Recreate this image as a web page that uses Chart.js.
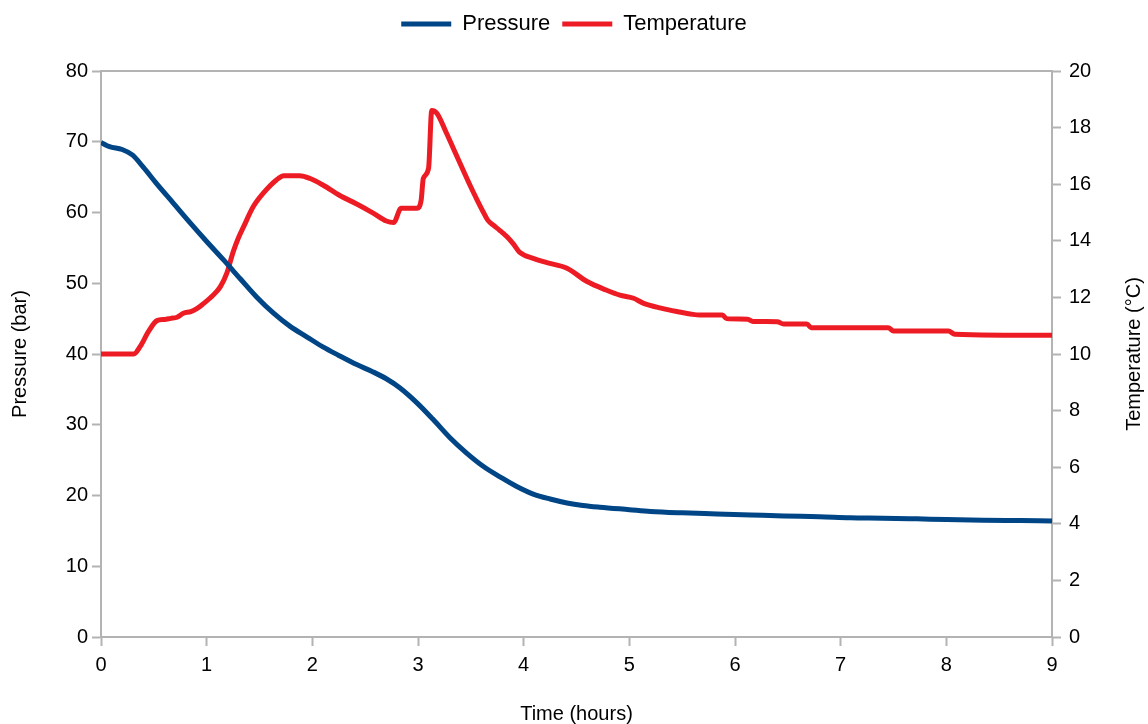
<!DOCTYPE html>
<html>
<head>
<meta charset="utf-8">
<script src="https://cdn.jsdelivr.net/npm/chart.js@4"></script>
<style>
  html, body { margin: 0; padding: 0; background: #ffffff; }
  #wrap { width: 1148px; height: 724px; }
</style>
</head>
<body>
<div id="wrap"><canvas id="chart"></canvas></div>
<script>
// Pressure readings (bar) against elapsed time (hours)
const pressureTimes = [0, 0.08, 0.2, 0.3, 0.4, 0.53, 0.68, 0.84, 1.0, 1.16, 1.32, 1.47, 1.63, 1.79, 1.95,
  2.1, 2.25, 2.42, 2.57, 2.7, 2.83, 2.99, 3.14, 3.3, 3.46, 3.62, 3.78, 3.93, 4.09, 4.25, 4.41, 4.56,
  4.72, 5.0, 5.2, 5.5, 5.83, 6.15, 6.46, 6.8, 7.09, 7.4, 7.72, 8.0, 8.35, 8.7, 9.0];
const pressureValues = [69.9, 69.3, 68.9, 68.1, 66.4, 64.0, 61.4, 58.6, 55.9, 53.3, 50.6, 48.1, 45.8, 43.9, 42.4,
  41.0, 39.8, 38.5, 37.5, 36.5, 35.2, 33.1, 30.8, 28.2, 26.0, 24.1, 22.6, 21.3, 20.2, 19.5, 18.95, 18.6,
  18.35, 18.0, 17.75, 17.55, 17.4, 17.25, 17.1, 17.0, 16.85, 16.8, 16.7, 16.6, 16.5, 16.45, 16.4];

// Temperature readings (°C) against elapsed time (hours)
const temperatureTimes = [0, 0.31, 0.37, 0.45, 0.53, 0.6, 0.66, 0.72, 0.78, 0.85, 0.91, 0.97, 1.03, 1.08,
  1.13, 1.19, 1.25, 1.3, 1.35, 1.44, 1.54, 1.66, 1.73, 1.88, 1.98, 2.1, 2.26, 2.42, 2.58, 2.7, 2.77,
  2.84, 2.99, 3.03, 3.05, 3.1, 3.13, 3.18, 3.27, 3.37, 3.5, 3.56, 3.62, 3.66, 3.71, 3.77, 3.84, 3.9, 3.96,
  4.09, 4.22, 4.41, 4.6, 4.78, 4.91, 5.04, 5.13, 5.3, 5.45, 5.6, 5.67, 5.88, 5.92, 6.12, 6.17, 6.4, 6.46,
  6.68, 6.72, 7.45, 7.5, 8.02, 8.08, 9.0];
const temperatureValues = [10.0, 10.0, 10.26, 10.8, 11.18, 11.22, 11.26, 11.3, 11.44, 11.5, 11.61, 11.78, 11.97, 12.15,
  12.38, 12.85, 13.6, 14.1, 14.5, 15.2, 15.7, 16.15, 16.3, 16.3, 16.2, 15.97, 15.6, 15.3, 14.97, 14.7, 14.65,
  15.15, 15.15, 15.44, 16.2, 16.56, 18.6, 18.5, 17.8, 16.97, 15.9, 15.44, 15.0, 14.73, 14.56, 14.38, 14.15, 13.9, 13.6,
  13.38, 13.23, 13.03, 12.56, 12.26, 12.08, 11.97, 11.8, 11.62, 11.5, 11.4, 11.38, 11.38, 11.25, 11.23, 11.15, 11.14, 11.06,
  11.06, 10.93, 10.93, 10.81, 10.81, 10.7, 10.66];

const timeRange = [0, 9];
const pressureRange = [0, 80];
const temperatureRange = [0, 20];

const seriesNames = ['Pressure', 'Temperature'];
const seriesColors = ['#004586', '#ed1c24'];
const axisTitles = { time: 'Time (hours)', pressure: 'Pressure (bar)', temperature: 'Temperature (°C)' };

const axisGray = '#b3b3b3';
const fontFamily = '"Liberation Sans", Arial, sans-serif';
const legendGap = 26;

const toPoints = (xs, ys) => xs.map((x, i) => ({ x: x, y: ys[i] }));

// Leaves extra room between the legend row and the plot
const legendGapPlugin = {
  id: 'legendGap',
  beforeLayout(chart) {
    const legend = chart.legend;
    if (legend && !legend._gapAdded) {
      const fit = legend.fit;
      legend.fit = function () {
        fit.apply(this, arguments);
        this.height += legendGap;
      };
      legend._gapAdded = true;
    }
  }
};

// Right-hand axis title, written bottom-to-top like the left one
const rightTitlePlugin = {
  id: 'rightTitle',
  afterDraw(chart) {
    const { ctx, chartArea } = chart;
    ctx.save();
    ctx.font = '20px ' + fontFamily;
    ctx.fillStyle = '#000000';
    ctx.textAlign = 'center';
    ctx.textBaseline = 'middle';
    ctx.translate(1134, (chartArea.top + chartArea.bottom) / 2);
    ctx.rotate(-Math.PI / 2);
    ctx.fillText(axisTitles.temperature, 0, 0);
    ctx.restore();
  }
};

// Box line along the top edge of the plot
const topEdgePlugin = {
  id: 'topEdge',
  afterDatasetsDraw(chart) {
    const { ctx, chartArea } = chart;
    ctx.save();
    ctx.strokeStyle = axisGray;
    ctx.lineWidth = 2;
    ctx.beginPath();
    ctx.moveTo(chartArea.left, chartArea.top);
    ctx.lineTo(chartArea.right, chartArea.top);
    ctx.stroke();
    ctx.restore();
  }
};

new Chart(document.getElementById('chart'), {
  type: 'line',
  data: {
    datasets: [
      {
        label: seriesNames[0],
        data: toPoints(pressureTimes, pressureValues),
        borderColor: seriesColors[0],
        backgroundColor: seriesColors[0],
        borderWidth: 5,
        pointRadius: 0,
        cubicInterpolationMode: 'monotone',
        yAxisID: 'y'
      },
      {
        label: seriesNames[1],
        data: toPoints(temperatureTimes, temperatureValues),
        borderColor: seriesColors[1],
        backgroundColor: seriesColors[1],
        borderWidth: 5,
        pointRadius: 0,
        cubicInterpolationMode: 'monotone',
        borderJoinStyle: 'round',
        borderCapStyle: 'round',
        yAxisID: 'y1'
      }
    ]
  },
  options: {
    responsive: true,
    maintainAspectRatio: false,
    animation: false,
    layout: { padding: { top: 1, left: 0, right: 0, bottom: 0 } },
    plugins: {
      tooltip: { enabled: false },
      legend: {
        position: 'top',
        labels: {
          boxWidth: 50,
          boxHeight: 5,
          padding: 12,
          color: '#000000',
          font: { family: fontFamily, size: 22 },
          generateLabels(chart) {
            return Chart.defaults.plugins.legend.labels.generateLabels(chart)
              .map(item => Object.assign(item, { lineWidth: 0 }));
          }
        }
      }
    },
    scales: {
      x: {
        type: 'linear',
        min: timeRange[0],
        max: timeRange[1],
        afterFit(scale) { scale.height = 87; },
        ticks: { stepSize: 1, color: '#000000', padding: 7, font: { family: fontFamily, size: 20 } },
        grid: { drawOnChartArea: false, tickLength: 9, tickColor: axisGray, tickWidth: 2, color: axisGray },
        border: { color: axisGray, width: 2 },
        title: { display: true, text: axisTitles.time, color: '#000000', font: { family: fontFamily, size: 20 }, padding: { top: 0, bottom: -2 } }
      },
      y: {
        type: 'linear',
        position: 'left',
        min: pressureRange[0],
        max: pressureRange[1],
        afterFit(scale) { scale.width = 101; },
        ticks: { stepSize: 10, color: '#000000', padding: 4, font: { family: fontFamily, size: 20 } },
        grid: { drawOnChartArea: false, tickLength: 9, tickColor: axisGray, tickWidth: 2, color: axisGray },
        border: { color: axisGray, width: 2 },
        title: { display: true, text: axisTitles.pressure, color: '#000000', font: { family: fontFamily, size: 20 }, padding: { top: 8, bottom: 0 } }
      },
      y1: {
        type: 'linear',
        position: 'right',
        min: temperatureRange[0],
        max: temperatureRange[1],
        afterFit(scale) { scale.width = 96; },
        ticks: { stepSize: 2, color: '#000000', padding: 8, font: { family: fontFamily, size: 20 } },
        grid: { drawOnChartArea: false, tickLength: 9, tickColor: axisGray, tickWidth: 2, color: axisGray },
        border: { color: axisGray, width: 2 }
      }
    }
  },
  plugins: [legendGapPlugin, rightTitlePlugin, topEdgePlugin]
});
</script>
</body>
</html>
